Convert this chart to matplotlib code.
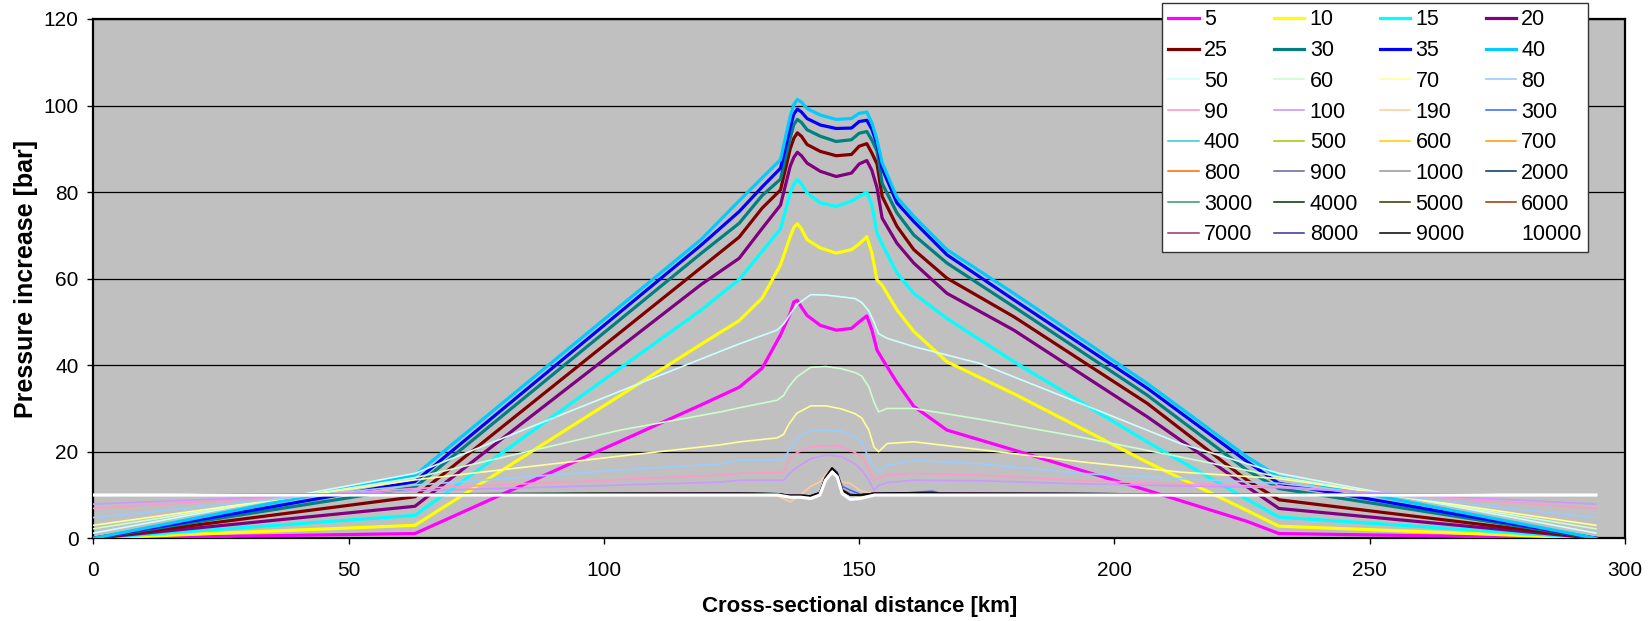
import matplotlib
matplotlib.use("Agg")
import matplotlib.pyplot as plt

plt.rcParams['font.family'] = ['Liberation Sans', 'DejaVu Sans']

# ---------------- data ----------------
x_thick = [0, 63, 119, 126.5, 131, 134.6, 136.5, 137.2, 137.9, 138.7, 139.8, 142.4, 145.5, 148.5,
           150, 151.5, 152.5, 153.5, 154.5, 157.4, 160.7, 167.2, 180.3, 206.4, 226, 232.2, 294.3]
p5 = [0, 1.1, 30.8, 34.9, 39.3, 47.0, 52.0, 54.6, 55.0, 53.4, 51.5, 49.2, 48.1, 48.5,
      50.0, 51.4, 48.1, 43.5, 41.5, 36.0, 30.5, 25.0, 20.4, 11.1, 3.9, 1.1, 0]
p10 = [0, 3.0, 44.8, 50.3, 55.5, 63.2, 69.7, 71.8, 72.7, 71.5, 69.0, 67.1, 65.9, 66.7,
       68.0, 69.7, 65.9, 59.7, 58.5, 52.8, 47.8, 40.8, 33.4, 17.6, 6.4, 2.8, 0]
p15 = [0, 5.3, 52.7, 59.8, 66.3, 71.5, 79.8, 81.8, 82.9, 81.9, 79.8, 77.5, 76.7, 77.9,
       79.0, 80.0, 77.0, 70.5, 68.0, 61.3, 56.6, 50.8, 40.8, 22.3, 9.0, 4.9, 0]
p20 = [0, 7.4, 58.6, 64.7, 71.6, 77.0, 86.0, 88.0, 89.2, 88.4, 86.7, 84.8, 83.6, 84.4,
       86.5, 87.3, 85.0, 81.0, 74.0, 68.2, 63.6, 56.6, 48.1, 28.1, 11.9, 6.9, 0]
p25 = [0, 9.6, 62.5, 69.6, 76.3, 80.5, 90.0, 92.4, 93.7, 92.9, 91.0, 89.4, 88.4, 88.7,
       90.6, 91.2, 89.0, 86.5, 79.0, 72.1, 66.7, 60.1, 51.2, 31.2, 13.4, 8.9, 0]
p30 = [0, 11.8, 65.8, 72.8, 79.2, 83.0, 92.5, 95.6, 96.8, 96.1, 94.4, 92.9, 91.7, 92.1,
       93.6, 94.0, 92.0, 89.5, 82.0, 75.2, 70.1, 63.6, 53.5, 33.1, 15.7, 11.5, 0]
p35 = [0, 13.1, 67.7, 75.5, 81.2, 85.5, 95.0, 98.0, 99.2, 98.5, 97.0, 95.5, 94.7, 94.8,
       96.3, 96.6, 94.5, 91.0, 85.5, 77.5, 73.2, 65.5, 55.1, 34.7, 17.7, 12.7, 0]
p40 = [0, 14.6, 69.0, 78.0, 83.3, 87.5, 97.5, 100.2, 101.4, 100.8, 99.3, 97.8, 96.8, 97.0,
       98.2, 98.5, 96.0, 92.0, 86.8, 78.8, 74.4, 66.7, 56.6, 35.8, 18.8, 14.2, 0]

x_thin = [0, 63, 103.2, 122.8, 126.7, 133.9, 135.2, 136.2, 137.8, 140.5, 143.5, 146.5, 149.2,
          150.5, 151.9, 152.9, 153.8, 155.5, 160.7, 173.7, 193.3, 212.9, 232.2, 294.3]
p50 = [1.2, 15.0, 34.0, 43.2, 45.0, 48.1, 49.5, 51.3, 54.0, 56.3, 56.2, 55.8, 55.4,
       54.5, 52.5, 50.0, 47.3, 46.2, 44.3, 40.4, 31.2, 21.9, 15.0, 1.2]
p60 = [2.2, 14.0, 25.0, 29.2, 30.2, 31.9, 33.0, 35.0, 37.3, 39.5, 39.7, 39.2, 38.3,
       37.5, 35.0, 31.5, 29.2, 30.0, 30.0, 27.5, 23.4, 18.8, 14.2, 2.2]
p70 = [3.0, 13.5, 19.0, 21.6, 22.3, 23.2, 24.0, 26.3, 28.9, 30.6, 30.6, 29.9, 28.8,
       27.8, 25.0, 21.1, 20.0, 21.9, 22.3, 20.5, 17.7, 15.3, 13.8, 3.0]
p80 = [4.8, 12.3, 15.8, 17.2, 18.1, 18.1, 18.3, 20.2, 23.0, 25.0, 25.0, 24.8, 23.5,
       22.2, 18.5, 16.3, 15.4, 16.9, 18.0, 17.2, 15.0, 13.8, 12.7, 4.8]
p90 = [6.9, 11.5, 13.6, 14.6, 15.0, 15.2, 15.3, 18.1, 19.8, 21.1, 21.4, 21.2, 19.8,
       18.8, 16.0, 13.4, 14.0, 14.6, 15.0, 14.6, 13.4, 12.5, 12.0, 6.9]
p100 = [7.9, 11.0, 12.3, 13.0, 13.4, 13.4, 13.4, 14.8, 16.4, 18.4, 19.2, 18.9, 17.2,
        15.8, 13.4, 11.1, 12.2, 12.9, 13.4, 13.3, 12.6, 12.1, 11.7, 7.9]

x_low = [0, 126, 134, 136.5, 138.5, 140.5, 142.3, 143.4, 144.7, 145.7, 146.7, 148.3, 150.2,
         153, 158, 164.3, 166, 294.3]
p190 = [10, 10.2, 9.8, 8.4, 10.0, 12.0, 13.0, 14.8, 16.0, 14.8, 13.0, 12.7, 11.0, 10.2, 10.3, 10.3, 10.2, 10]
p300 = [10, 10.3, 10.2, 9.9, 9.9, 9.8, 10.6, 14.2, 16.3, 15.3, 12.0, 11.1, 10.2, 10.3, 10.4, 10.9, 10.4, 10]
p400 = [10, 10.3, 10.1, 9.8, 9.8, 9.7, 10.4, 14.0, 16.2, 15.0, 11.2, 10.2, 9.9, 10.3, 10.4, 10.5, 10.3, 10]
p500 = [10, 10.3, 10.1, 9.8, 9.8, 9.7, 10.4, 14.0, 16.1, 15.0, 11.0, 10.0, 9.9, 10.3, 10.4, 10.4, 10.3, 10]
p600 = [10, 10.3, 10.1, 9.7, 9.8, 9.8, 10.5, 14.1, 16.2, 15.0, 11.3, 10.1, 9.9, 10.3, 10.4, 10.4, 10.3, 10]
p700 = [10, 10.3, 10.1, 9.8, 9.8, 9.8, 10.5, 14.1, 16.3, 15.1, 11.4, 10.2, 9.9, 10.3, 10.4, 10.5, 10.3, 10]
p800 = [10, 10.3, 10.1, 9.8, 9.9, 9.8, 10.5, 14.0, 16.2, 15.0, 11.2, 10.1, 9.9, 10.3, 10.4, 10.4, 10.3, 10]
p900 = [10, 10.4, 10.2, 9.9, 9.9, 9.8, 10.5, 14.1, 16.2, 15.1, 11.3, 10.2, 10.0, 10.3, 10.4, 10.5, 10.3, 10]
p1000 = [10, 10.3, 10.2, 9.9, 9.9, 9.8, 10.5, 14.0, 16.1, 15.0, 11.2, 10.1, 10.0, 10.3, 10.4, 10.4, 10.3, 10]
p2000 = [10, 10.5, 10.3, 9.9, 9.9, 9.8, 10.5, 14.0, 16.2, 15.0, 11.1, 10.0, 10.0, 10.4, 10.5, 10.5, 10.4, 10]
p3000 = [10, 10.4, 10.2, 9.9, 9.9, 9.8, 10.5, 14.0, 16.2, 15.0, 11.1, 10.0, 10.0, 10.4, 10.5, 10.5, 10.4, 10]
p4000 = [10, 10.5, 10.3, 9.9, 9.9, 9.8, 10.5, 14.0, 16.2, 15.0, 11.1, 10.0, 10.0, 10.4, 10.5, 10.5, 10.4, 10]
p5000 = [10, 10.4, 10.3, 9.9, 9.9, 9.8, 10.5, 14.0, 16.2, 15.0, 11.1, 10.0, 10.0, 10.4, 10.5, 10.5, 10.4, 10]
p6000 = [10, 10.4, 10.2, 9.9, 9.9, 9.8, 10.5, 14.0, 16.2, 15.0, 11.1, 10.0, 10.0, 10.4, 10.5, 10.5, 10.4, 10]
p7000 = [10, 10.4, 10.2, 9.9, 9.9, 9.8, 10.5, 14.0, 16.2, 15.0, 11.1, 10.0, 10.0, 10.4, 10.5, 10.5, 10.4, 10]
p8000 = [10, 10.4, 10.2, 9.9, 9.9, 9.8, 10.5, 14.0, 16.2, 15.0, 11.1, 10.0, 10.0, 10.4, 10.5, 10.6, 10.4, 10]
p9000 = [10, 10.4, 10.2, 9.9, 9.9, 9.8, 10.5, 14.0, 16.2, 15.0, 11.1, 10.0, 10.0, 10.4, 10.5, 10.5, 10.4, 10]
p10000 = [10, 10, 10, 9.5, 9.5, 9.2, 10.0, 13.4, 15.3, 14.2, 10.3, 9.0, 9.2, 10.0, 10.0, 10.0, 10.0, 10]

labels = ['5', '10', '15', '20', '25', '30', '35', '40', '50', '60', '70', '80', '90', '100',
          '190', '300', '400', '500', '600', '700', '800', '900', '1000', '2000', '3000',
          '4000', '5000', '6000', '7000', '8000', '9000', '10000']
colors = ['#FF00FF', '#FFFF00', '#00FFFF', '#800080', '#800000', '#008080', '#0000FF', '#00CCFF',
          '#CCFFFF', '#CCFFCC', '#FFFF99', '#99CCFF', '#FF99CC', '#CC99FF', '#FFCC99', '#3366FF',
          '#33CCCC', '#99CC00', '#FFCC00', '#FF9900', '#FF6600', '#666699', '#969696', '#003366',
          '#339966', '#003300', '#333300', '#993300', '#993366', '#333399', '#000000', '#FFFFFF']

series = [(x_thick, p5), (x_thick, p10), (x_thick, p15), (x_thick, p20), (x_thick, p25),
          (x_thick, p30), (x_thick, p35), (x_thick, p40),
          (x_thin, p50), (x_thin, p60), (x_thin, p70), (x_thin, p80), (x_thin, p90), (x_thin, p100),
          (x_low, p190), (x_low, p300), (x_low, p400), (x_low, p500), (x_low, p600), (x_low, p700),
          (x_low, p800), (x_low, p900), (x_low, p1000), (x_low, p2000), (x_low, p3000),
          (x_low, p4000), (x_low, p5000), (x_low, p6000), (x_low, p7000), (x_low, p8000),
          (x_low, p9000), (x_low, p10000)]

# ---------------- figure ----------------
W, H = 1652, 621
fig = plt.figure(figsize=(W / 100, H / 100), dpi=100)
ax = fig.add_axes([93.3 / W, (H - 538.3) / H, (1625 - 93.3) / W, (538.3 - 19) / H])
ax.set_facecolor('#C0C0C0')

handles = []
for i, ((xs, ys), lab, col) in enumerate(zip(series, labels, colors)):
    if i < 8:
        lw = 2.3
    elif i < 14:
        lw = 1.2
    elif i == 31:
        lw = 2.3
    else:
        lw = 1.1
    h, = ax.plot(xs, ys, color=col, lw=lw, label=lab, zorder=3 + i * 0.01,
                 solid_joinstyle='round')
    handles.append(h)

ax.set_xlim(0, 300)
ax.set_ylim(0, 120)
ax.set_xticks(range(0, 301, 50))
ax.set_yticks(range(0, 121, 20))
ax.yaxis.grid(True, color='black', lw=0.9)
ax.set_axisbelow(True)
for sp in ax.spines.values():
    sp.set_linewidth(1.6)
    sp.set_color('black')
ax.tick_params(axis='both', direction='out', length=4.5, width=1, labelsize=15, colors='black')
ax.tick_params(axis='x', pad=12)
ax.tick_params(axis='y', pad=6)

ax.set_xlabel('Cross-sectional distance [km]', fontsize=16, fontweight='bold')
ax.set_ylabel('Pressure increase [bar]', fontsize=18, fontweight='bold')
ax.xaxis.set_label_coords(0.5, -0.112)
ax.yaxis.set_label_coords(-0.036, 0.5)

# legend: row-major order in 4 columns
nrow, ncol = 8, 4
order = [r * ncol + c for c in range(ncol) for r in range(nrow)]
leg = fig.legend([handles[k] for k in order], [labels[k] for k in order],
                 loc='upper left', bbox_to_anchor=(1162 / W, 1 - 3 / H, (1588 - 1162) / W, 0),
                 bbox_transform=fig.transFigure, mode='expand', ncol=ncol, fontsize=15.5,
                 handlelength=1.4, handletextpad=0.25, labelspacing=0.45, borderpad=0.3,
                 borderaxespad=0, fancybox=False, framealpha=1, facecolor='white',
                 edgecolor='#333333')
leg.get_frame().set_linewidth(1.0)

fig.savefig('out.png', dpi=100)
